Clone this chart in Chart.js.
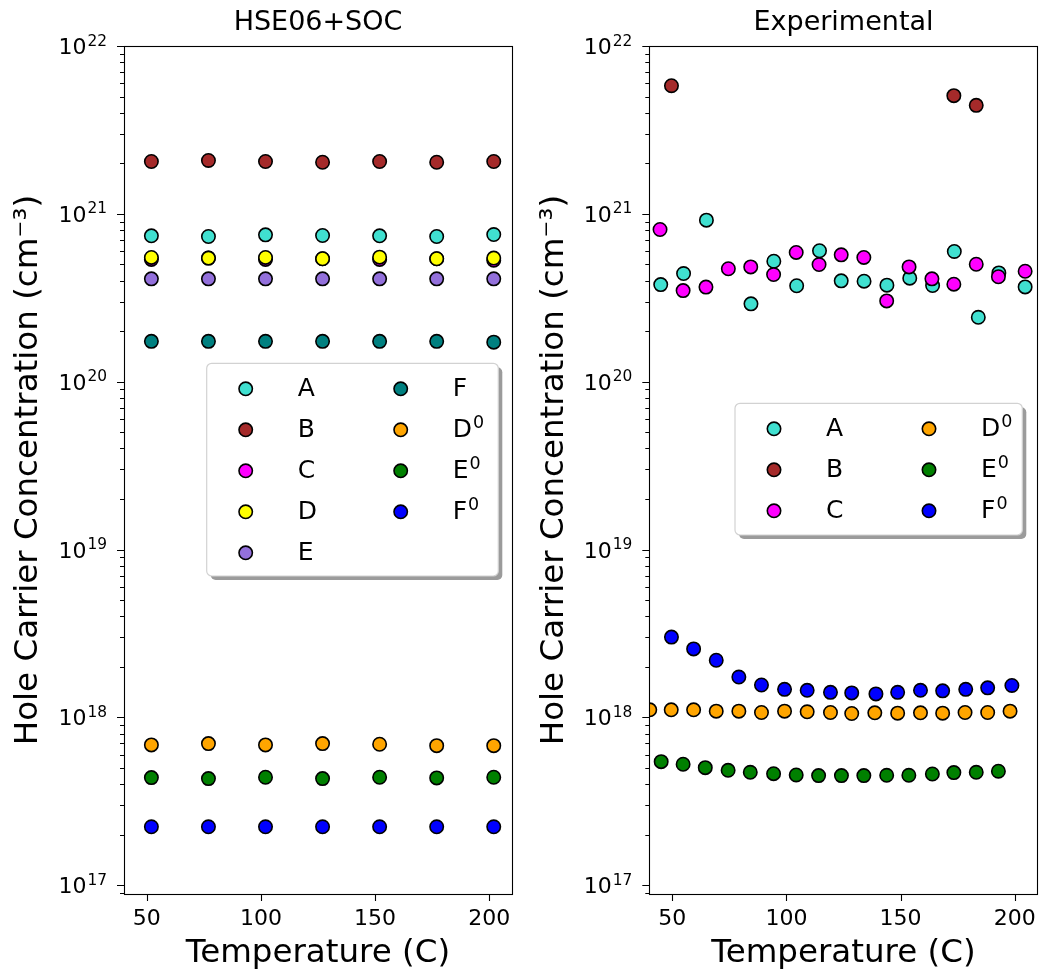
<!DOCTYPE html>
<html>
<head>
<meta charset="utf-8">
<script src="https://cdn.jsdelivr.net/npm/chart.js@4.4.1/dist/chart.umd.min.js"></script>
<style>
  html, body { margin: 0; padding: 0; background: #fff; }
  #wrap { display: flex; width: 1040px; height: 973px; }
  canvas { display: block; }
</style>
</head>
<body>
<div id="wrap">
  <canvas id="calc" width="520" height="973"></canvas>
  <canvas id="exp" width="520" height="973"></canvas>
</div>
<script>
// ---- data: HSE06+SOC panel ----
const calcTemps = [52, 77, 102, 127, 152, 177, 202];
const calcA  = [7.40e20, 7.33e20, 7.50e20, 7.43e20, 7.40e20, 7.33e20, 7.53e20];
const calcB  = [2.05e21, 2.08e21, 2.05e21, 2.03e21, 2.05e21, 2.03e21, 2.05e21];
const calcC  = [5.35e20, 5.45e20, 5.35e20, 5.40e20, 5.35e20, 5.40e20, 5.30e20];
const calcD  = [5.50e20, 5.45e20, 5.50e20, 5.40e20, 5.52e20, 5.40e20, 5.45e20];
const calcE  = [4.10e20, 4.10e20, 4.10e20, 4.10e20, 4.10e20, 4.10e20, 4.10e20];
const calcF  = [1.74e20, 1.74e20, 1.74e20, 1.74e20, 1.74e20, 1.74e20, 1.72e20];
const calcD0 = [6.86e17, 6.98e17, 6.86e17, 6.98e17, 6.92e17, 6.79e17, 6.79e17];
const calcE0 = [4.38e17, 4.32e17, 4.40e17, 4.32e17, 4.40e17, 4.36e17, 4.40e17];
const calcF0 = [2.23e17, 2.23e17, 2.23e17, 2.23e17, 2.23e17, 2.23e17, 2.23e17];

// ---- data: Experimental panel ----
const expTempsA = [45, 55, 65, 84.5, 94.5, 104.5, 114.5, 124, 134, 144, 154, 164, 173.5, 184, 193, 204.5];
const expA = [3.79e20, 4.41e20, 9.17e20, 2.91e20, 5.22e20, 3.73e20, 6.03e20, 3.99e20, 3.97e20, 3.76e20,
              4.14e20, 3.74e20, 5.97e20, 2.42e20, 4.45e20, 3.67e20];
const expTempsB = [49.7, 173.3, 183.1];
const expB = [5.8e21, 5.06e21, 4.43e21];
const expTempsC = [44.7, 54.8, 64.8, 74.6, 84.4, 94.4, 104.3, 114.3, 124, 133.9, 143.9, 153.7, 163.7, 173.3, 183.1, 192.8, 204.5];
const expC = [8.07e20, 3.49e20, 3.66e20, 4.71e20, 4.83e20, 4.35e20, 5.89e20, 4.99e20, 5.70e20, 5.50e20,
              3.03e20, 4.83e20, 4.10e20, 3.81e20, 5.01e20, 4.22e20, 4.55e20];
const expTempsD0 = [40.2, 49.6, 59.4, 69.3, 79.2, 89.1, 99.2, 109.1, 119.3, 128.6, 138.7, 148.7, 158.7, 168.4, 178.2, 188.1, 197.9];
const expD0 = [1.11e18, 1.11e18, 1.11e18, 1.09e18, 1.09e18, 1.07e18, 1.09e18, 1.08e18, 1.07e18, 1.055e18,
               1.065e18, 1.06e18, 1.065e18, 1.06e18, 1.07e18, 1.07e18, 1.09e18];
const expTempsE0 = [45.2, 54.8, 64.5, 74.5, 84.2, 94.4, 104.3, 114.1, 124.1, 133.9, 143.9, 153.6, 163.9, 173.3, 183.1, 192.8];
const expE0 = [5.45e17, 5.26e17, 5.02e17, 4.84e17, 4.71e17, 4.62e17, 4.54e17, 4.50e17, 4.50e17, 4.50e17,
               4.52e17, 4.52e17, 4.60e17, 4.69e17, 4.71e17, 4.78e17];
const expTempsF0 = [49.7, 59.4, 69.3, 79.2, 89.1, 99.2, 109.1, 119.3, 128.6, 139.2, 148.7, 158.7, 168.4, 178.5, 188.1, 198.7];
const expF0 = [3.01e18, 2.56e18, 2.19e18, 1.74e18, 1.56e18, 1.47e18, 1.45e18, 1.41e18, 1.40e18, 1.38e18,
               1.41e18, 1.45e18, 1.44e18, 1.47e18, 1.50e18, 1.55e18];

// ---- axes ----
const xTicks = [50, 100, 150, 200];
const xRange = [40, 210];
const yRange = [8.87e16, 1e22];
const yDecades = [16, 17, 18, 19, 20, 21, 22];

const COLORS = {
  A: "#40e0d0", B: "#a52a2a", C: "#ff00ff", D: "#ffff00", E: "#9370db",
  F: "#008080", D0: "#ffa500", E0: "#008000", F0: "#0000ff",
};

const FONT = "'DejaVu Sans', Verdana, sans-serif";
Chart.defaults.font.family = FONT;
Chart.defaults.color = "#000";

function series(label, xs, ys, color, i) {
  return {
    label,
    data: xs.map((x, k) => ({ x, y: ys[k] })),
    backgroundColor: color,
    borderColor: "#000",
    borderWidth: 1.6,
    pointRadius: 6.7,
    pointHoverRadius: 6.7,
    clip: 0,
    order: -i,   // later series drawn on top
  };
}

// log ticks: 1..9 x 10^n inside the range, powers of ten are major
function logTicks(scale) {
  const ticks = [];
  yDecades.forEach(e => {
    for (let m = 1; m <= 9; m++) {
      const v = m * Math.pow(10, e);
      if (v >= yRange[0] && v <= yRange[1] * 1.0001) ticks.push({ value: v, major: m === 1 });
    }
  });
  scale.ticks = ticks;
}

// text with a raised exponent, like mathtext "10^{22}"
function supText(ctx, base, exp, x, y, size, align) {
  ctx.font = `${size}px ${FONT}`;
  const wb = ctx.measureText(base).width;
  ctx.font = `${size * 0.7}px ${FONT}`;
  const we = ctx.measureText(exp).width;
  const x0 = align === "right" ? x - wb - we - 1 : x;
  ctx.textAlign = "left";
  ctx.font = `${size}px ${FONT}`;
  ctx.fillText(base, x0, y);
  ctx.font = `${size * 0.7}px ${FONT}`;
  ctx.fillText(exp, x0 + wb + 1, y - size * 0.38);
}

// frame, outward tick marks (major longer than minor) and y tick labels
const frameTicks = {
  id: "frameTicks",
  afterDatasetsDraw(chart) {
    const { ctx, chartArea: a, scales: { x, y } } = chart;
    ctx.save();
    ctx.strokeStyle = "#000";
    ctx.lineWidth = 1.1;
    ctx.beginPath();
    y.ticks.forEach(t => {
      const py = Math.round(y.getPixelForValue(t.value)) + 0.5;
      ctx.moveTo(a.left, py);
      ctx.lineTo(a.left - (t.major ? 7 : 4), py);
    });
    x.ticks.forEach(t => {
      const px = Math.round(x.getPixelForValue(t.value)) + 0.5;
      ctx.moveTo(px, a.bottom);
      ctx.lineTo(px, a.bottom + 7);
    });
    ctx.stroke();
    ctx.strokeRect(Math.round(a.left) + 0.5, Math.round(a.top) + 0.5,
                   Math.round(a.right - a.left), Math.round(a.bottom - a.top));
    ctx.fillStyle = "#000";
    ctx.textBaseline = "alphabetic";
    y.ticks.filter(t => t.major).forEach(t => {
      const py = y.getPixelForValue(t.value);
      supText(ctx, "10", String(Math.round(Math.log10(t.value))), a.left - 17, py + 8, 22, "right");
    });
    ctx.restore();
  },
};

function roundRect(ctx, x, y, w, h, r) {
  ctx.beginPath();
  ctx.moveTo(x + r, y);
  ctx.arcTo(x + w, y, x + w, y + h, r);
  ctx.arcTo(x + w, y + h, x, y + h, r);
  ctx.arcTo(x, y + h, x, y, r);
  ctx.arcTo(x, y, x + w, y, r);
  ctx.closePath();
}

function drawLabel(ctx, text, x, y) {
  if (text.endsWith("⁰")) {
    supText(ctx, text.slice(0, -1), "0", x, y, 25, "left");
  } else {
    ctx.font = `25px ${FONT}`;
    ctx.fillText(text, x, y);
  }
}

// matplotlib style legend box inside the axes, with shadow
const boxLegend = {
  id: "boxLegend",
  afterDraw(chart, args, opts) {
    const { ctx } = chart;
    const { x, y, w, h, rows } = opts;
    ctx.save();
    roundRect(ctx, x + 4, y + 4, w, h, 5);
    ctx.fillStyle = "#9b9b9b";
    ctx.fill();
    roundRect(ctx, x, y, w, h, 5);
    ctx.fillStyle = "#fff";
    ctx.fill();
    ctx.strokeStyle = "#d2d2d2";
    ctx.lineWidth = 1.2;
    ctx.stroke();
    ctx.textBaseline = "alphabetic";
    ctx.textAlign = "left";
    chart.data.datasets.forEach((ds, i) => {
      const col = Math.floor(i / rows), row = i % rows;
      const mx = x + 39 + col * 155, my = y + 25.5 + row * 41;
      ctx.beginPath();
      ctx.arc(mx, my, 6.7, 0, Math.PI * 2);
      ctx.fillStyle = ds.backgroundColor;
      ctx.fill();
      ctx.lineWidth = 1.6;
      ctx.strokeStyle = "#000";
      ctx.stroke();
      ctx.fillStyle = "#000";
      drawLabel(ctx, ds.label, mx + 52, my + 7.4);
    });
    ctx.restore();
  },
};

function makePanel(id, title, datasets, geom) {
  return new Chart(document.getElementById(id), {
    type: "scatter",
    data: { datasets },
    plugins: [frameTicks, boxLegend],
    options: {
      responsive: false,
      animation: false,
      devicePixelRatio: 1,
      layout: { autoPadding: false, padding: { left: 0, right: geom.padRight, top: 0, bottom: 0 } },
      plugins: {
        legend: { display: false },
        tooltip: { enabled: false },
        title: {
          display: true,
          text: title,
          fullSize: false,
          color: "#000",
          font: { size: 27, weight: "normal" },
          padding: { top: 6.8, bottom: 6.8 },
        },
        boxLegend: geom.legend,
      },
      scales: {
        x: {
          type: "linear",
          min: xRange[0],
          max: xRange[1],
          // tick marks are drawn by frameTicks; tickLength only offsets the labels
          grid: { display: false, drawTicks: true, tickLength: 12.4 },
          border: { display: false },
          afterBuildTicks: s => { s.ticks = xTicks.map(v => ({ value: v })); },
          afterFit: s => { s.height = 79; s.paddingLeft = 0; s.paddingRight = 0; },
          ticks: { font: { size: 22 }, padding: 0, color: "#000" },
          title: {
            display: true,
            text: "Temperature (C)",
            font: { size: 32.5 },
            color: "#000",
            padding: { top: 0, bottom: 0 },
          },
        },
        y: {
          type: "logarithmic",
          min: yRange[0],
          max: yRange[1],
          grid: { display: false, drawTicks: false },
          border: { display: false },
          afterBuildTicks: logTicks,
          afterFit: s => { s.width = geom.yWidth; s.paddingTop = 0; s.paddingBottom = 0; },
          ticks: { display: false, autoSkip: false, padding: 0 },
          title: {
            display: true,
            text: "Hole Carrier Concentration (cm⁻³)",
            font: { size: 32.5 },
            color: "#000",
            padding: { top: geom.yTitlePad, bottom: 0 },
          },
        },
      },
    },
  });
}

const calcSeries = [
  ["A", calcA, COLORS.A], ["B", calcB, COLORS.B], ["C", calcC, COLORS.C],
  ["D", calcD, COLORS.D], ["E", calcE, COLORS.E], ["F", calcF, COLORS.F],
  ["D⁰", calcD0, COLORS.D0], ["E⁰", calcE0, COLORS.E0], ["F⁰", calcF0, COLORS.F0],
];
makePanel("calc", "HSE06+SOC",
  calcSeries.map(([l, ys, c], i) => series(l, calcTemps, ys, c, i)),
  { padRight: 8, yWidth: 124, yTitlePad: 9.4,
    legend: { x: 206.7, y: 363.3, w: 291.6, h: 212.7, rows: 5 } });

const expSeries = [
  ["A", expTempsA, expA, COLORS.A], ["B", expTempsB, expB, COLORS.B], ["C", expTempsC, expC, COLORS.C],
  ["D⁰", expTempsD0, expD0, COLORS.D0], ["E⁰", expTempsE0, expE0, COLORS.E0], ["F⁰", expTempsF0, expF0, COLORS.F0],
];
makePanel("exp", "Experimental",
  expSeries.map(([l, xs, ys, c], i) => series(l, xs, ys, c, i)),
  { padRight: 2.3, yWidth: 129.3, yTitlePad: 15.1,
    legend: { x: 215, y: 403.3, w: 287.3, h: 131.7, rows: 3 } });
</script>
</body>
</html>
